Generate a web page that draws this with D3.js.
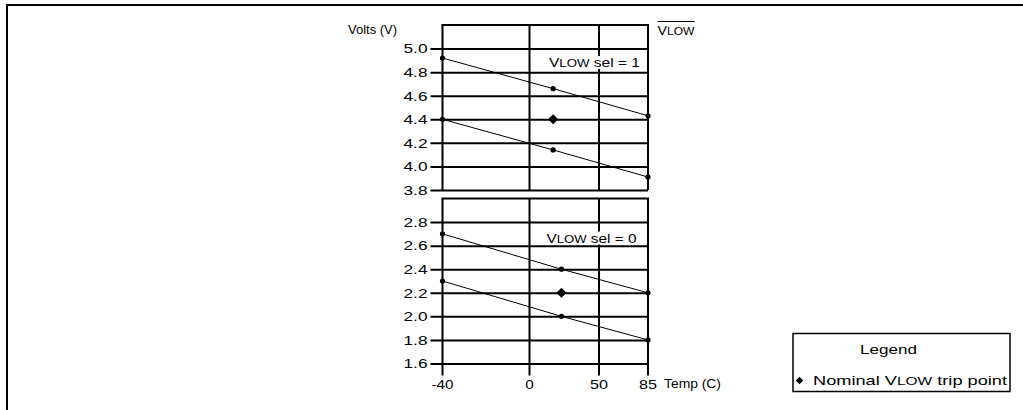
<!DOCTYPE html>
<html>
<head>
<meta charset="utf-8">
<script src="https://cdn.jsdelivr.net/npm/d3@7"></script>
<style>
  body { margin: 0; background: #fff; }
  svg { display: block; font-family: "Liberation Sans", Arial, Helvetica, sans-serif; }
</style>
</head>
<body>
<div id="chart"></div>
<script>
// temperature ticks (x axis is not to scale in the original)
var tempTicks = [-40, 0, 50, 85];
var tempWidths = [22, 8.5, 18, 18];

// VLOW sel = 1 panel
var topTicks = [3.8, 4.0, 4.2, 4.4, 4.6, 4.8, 5.0];
var topTemps = [-40, 17, 85];
var topUpper = [4.92, 4.66, 4.43];
var topLower = [4.40, 4.14, 3.91];
var topNominal = [17, 4.40];

// VLOW sel = 0 panel
var botTicks = [1.6, 1.8, 2.0, 2.2, 2.4, 2.6, 2.8];
var botTemps = [-40, 23, 85];
var botUpper = [2.70, 2.40, 2.20];
var botLower = [2.30, 2.00, 1.80];
var botNominal = [23, 2.20];

var width = 1023, height = 410;
var fs = 13.5, fsSmall = 11.5;

var svg = d3.select("#chart").append("svg")
    .attr("width", width)
    .attr("height", height);

// outer frame (only top and left edges visible)
svg.append("path")
    .attr("d", "M7,410 V5 H1023")
    .attr("fill", "none")
    .attr("stroke", "#000")
    .attr("stroke-width", 2);

var x = d3.scaleLinear()
    .domain(tempTicks)
    .range([442.5, 529.5, 599, 648]);

var yTop = d3.scaleLinear().domain([3.8, 5.2]).range([190, 25]);
var yBot = d3.scaleLinear().domain([1.6, 3.0]).range([363.5, 198.5]);

// text with a small caps "LOW" part
function vlowText(sel, parts) {
    var t = sel.append("text").attr("font-size", fs);
    parts.forEach(function(p) {
        var s = t.append("tspan").text(p);
        if (p === "LOW") s.attr("font-size", fsSmall);
    });
    return t;
}

function drawPanel(y, ticks, temps, upper, lower, nominal, label) {
    var g = svg.append("g");
    var top = y.range()[1], bottom = y.range()[0];

    // horizontal grid + left ticks
    var axis = d3.axisLeft(y)
        .tickValues(ticks)
        .tickFormat(d3.format(".1f"))
        .tickSize(-(x(85) - x(-40) + 12))
        .tickPadding(3);
    var ag = g.append("g")
        .attr("transform", "translate(" + (x(-40) - 12) + ",0)")
        .call(axis);
    ag.select(".domain").remove();
    ag.selectAll(".tick line").attr("stroke", "#000").attr("stroke-width", 2);
    ag.selectAll(".tick text")
        .attr("font-size", fs)
        .attr("fill", "#000")
        .attr("textLength", 24)
        .attr("lengthAdjust", "spacingAndGlyphs");

    // top edge
    g.append("line")
        .attr("x1", x(-40) - 1).attr("x2", x(85) + 1)
        .attr("y1", top).attr("y2", top)
        .attr("stroke", "#000").attr("stroke-width", 2);

    // vertical grid
    g.selectAll(".vgrid")
        .data(tempTicks)
        .enter().append("line")
        .attr("x1", d => x(d)).attr("x2", d => x(d))
        .attr("y1", top).attr("y2", bottom + (label.tickBelow ? 12 : 0))
        .attr("stroke", "#000").attr("stroke-width", 2);

    // label with white background
    var t = vlowText(g, ["V", "LOW", " sel = " + label.sel])
        .attr("x", label.x).attr("y", label.y)
        .attr("textLength", label.w)
        .attr("lengthAdjust", "spacingAndGlyphs");
    var bb = t.node().getBBox();
    g.insert("rect", () => t.node())
        .attr("x", bb.x - 1).attr("y", bb.y + 1)
        .attr("width", bb.width + 2).attr("height", bb.height - 2)
        .attr("fill", "#fff");

    // data lines
    var line = d3.line().x(d => x(d[0])).y(d => y(d[1]));
    [upper, lower].forEach(function(series) {
        var pts = temps.map((t, i) => [t, series[i]]);
        g.append("path")
            .attr("d", line(pts))
            .attr("fill", "none")
            .attr("stroke", "#000")
            .attr("stroke-width", 1);
        g.selectAll(null)
            .data(pts)
            .enter().append("circle")
            .attr("cx", d => x(d[0]))
            .attr("cy", d => y(d[1]))
            .attr("r", 2.6)
            .attr("fill", "#000");
    });

    // nominal trip point
    g.append("path")
        .attr("d", d3.symbol().type(d3.symbolSquare).size(50)())
        .attr("transform", "translate(" + x(nominal[0]) + "," + y(nominal[1]) + ") rotate(45)")
        .attr("fill", "#000");
}

drawPanel(yTop, topTicks, topTemps, topUpper, topLower, topNominal, {x: 549, y: 67, w: 91, sel: 1, tickBelow: false});
drawPanel(yBot, botTicks, botTemps, botUpper, botLower, botNominal, {x: 546.5, y: 242.5, w: 90, sel: 0, tickBelow: true});

// x tick labels
svg.append("g")
    .selectAll("text")
    .data(tempTicks)
    .enter().append("text")
    .attr("x", (d, i) => x(d) - tempWidths[i] / 2)
    .attr("y", 389)
    .attr("font-size", fs)
    .attr("textLength", (d, i) => tempWidths[i])
    .attr("lengthAdjust", "spacingAndGlyphs")
    .text(d => d);

svg.append("text")
    .attr("x", 664).attr("y", 388)
    .attr("font-size", fs)
    .attr("textLength", 57)
    .attr("lengthAdjust", "spacingAndGlyphs")
    .text("Temp (C)");

svg.append("text")
    .attr("x", 348).attr("y", 34)
    .attr("font-size", fs)
    .attr("textLength", 49)
    .attr("lengthAdjust", "spacingAndGlyphs")
    .text("Volts (V)");

// VLOW with overline
var vl = vlowText(svg, ["V", "LOW"])
    .attr("x", 657.5).attr("y", 34.5)
    .attr("textLength", 37)
    .attr("lengthAdjust", "spacingAndGlyphs");
var vb = vl.node().getBBox();
svg.append("line")
    .attr("x1", vb.x).attr("x2", vb.x + vb.width)
    .attr("y1", 21.5).attr("y2", 21.5)
    .attr("stroke", "#000").attr("stroke-width", 1);

// legend
var lg = svg.append("g");
lg.append("rect")
    .attr("x", 793).attr("y", 333.5)
    .attr("width", 217).attr("height", 58)
    .attr("fill", "#fff")
    .attr("stroke", "#000")
    .attr("stroke-width", 1.5);
lg.append("text")
    .attr("x", 860).attr("y", 354)
    .attr("font-size", fs)
    .attr("textLength", 57)
    .attr("lengthAdjust", "spacingAndGlyphs")
    .text("Legend");
lg.append("path")
    .attr("d", d3.symbol().type(d3.symbolSquare).size(28)())
    .attr("transform", "translate(799.5,380.5) rotate(45)")
    .attr("fill", "#000");
vlowText(lg, ["Nominal V", "LOW", " trip point"])
    .attr("x", 813).attr("y", 385)
    .attr("textLength", 194)
    .attr("lengthAdjust", "spacingAndGlyphs");
</script>
</body>
</html>
